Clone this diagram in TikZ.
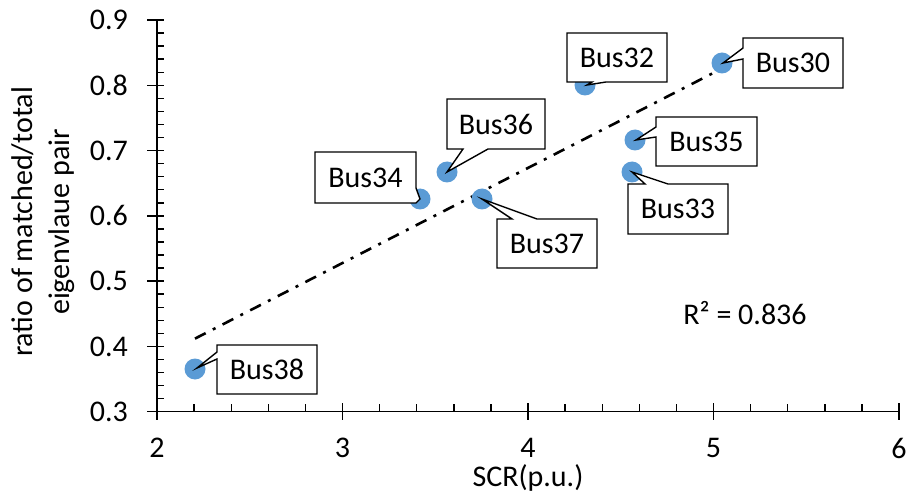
\documentclass[tikz,border=0pt]{standalone}
\usepackage{fontspec}
\setmainfont{Carlito}
\definecolor{ptblue}{HTML}{5B9BD5}
\begin{document}
\begin{tikzpicture}[x=1pt,y=-1pt,
  axisline/.style={line width=1.4pt, line cap=rect},
  tickline/.style={line width=1.4pt},
  datapt/.style={circle, fill=ptblue, minimum size=21pt, inner sep=0pt},
  callout/.style={draw=black, fill=white, line width=1.4pt, line join=miter},
  lbl/.style={font=\fontsize{30}{37}\selectfont, inner sep=0pt},
  trendline/.style={line width=2.6pt, dash pattern=on 12pt off 8pt on 3pt off 8pt}
]
\useasboundingbox (0,0) rectangle (909,494);

% axes
\coordinate (O) at (157,411.7);
\coordinate (XE) at (899,411.7);
\coordinate (YE) at (157,20);
\draw[axisline] (XE) -- (O) -- (YE);
% x ticks
\foreach \k in {0,...,4} {
  \draw[tickline] ({157+185.5*\k},403) -- ({157+185.5*\k},420);
  \node[lbl] (xl\k) at ({157+185.5*\k},448) {\pgfmathparse{int(2+\k)}\pgfmathresult};
}
\foreach \k in {1,...,19} {
  \draw[tickline] ({157+37.1*\k},411.7) -- ({157+37.1*\k},404);
}
% y ticks
\foreach \k/\t in {0/0.3,1/0.4,2/0.5,3/0.6,4/0.7,5/0.8,6/0.9} {
  \draw[tickline] (147,{411.7-65.28*\k}) -- (164,{411.7-65.28*\k});
  \node[lbl, anchor=east] (yl\k) at (128,{411.7-65.28*\k}) {\t};
}
\foreach \k in {1,...,29} {
  \draw[tickline] (157,{411.7-13.056*\k}) -- (163.5,{411.7-13.056*\k});
}
% axis titles
\node[lbl] (xt) at (528,478) {SCR(p.u.)};
\node[lbl, rotate=90, align=center] (yt) at (43,222) {ratio of matched/total\\eigenvlaue pair};

% trend line
\coordinate (T1) at (195,338.6);
\coordinate (T2) at (722,68.5);
\draw[trendline] (T1) -- (T2);

% data points
\node[datapt] (p38) at (195,369) {};
\node[datapt] (p34) at (420,199) {};
\node[datapt] (p36) at (447,172) {};
\node[datapt] (p37) at (482,199) {};
\node[datapt] (p32) at (585,85) {};
\node[datapt] (p30) at (722,63) {};
\node[datapt] (p35) at (635,140) {};
\node[datapt] (p33) at (632,172) {};

% callouts
\draw[callout] (217,345) -- (317,345) -- (317,394) -- (217,394) -- (217,359) -- (197,368) -- (217,352) -- cycle;
\node[lbl] (c38) at (267,369.5) {Bus38};

\draw[callout] (315,152) -- (416,152) -- (416,188) -- (420,199) -- (416,203) -- (315,203) -- cycle;
\node[lbl] (c34) at (365.5,177.5) {Bus34};

\draw[callout] (447,99) -- (545,99) -- (545,149) -- (488,149) -- (447,172) -- (463,149) -- (447,149) -- cycle;
\node[lbl] (c36) at (496,124) {Bus36};

\draw[callout] (497,219) -- (512,219) -- (482,199) -- (537,219) -- (597,219) -- (597,268) -- (497,268) -- cycle;
\node[lbl] (c37) at (547,243.5) {Bus37};

\draw[callout] (567,33) -- (667,33) -- (667,82) -- (606,82) -- (587,85) -- (592,82) -- (567,82) -- cycle;
\node[lbl] (c32) at (617,57.5) {Bus32};

\draw[callout] (743,38) -- (843,38) -- (843,88) -- (743,88) -- (743,59) -- (723,63) -- (743,48) -- cycle;
\node[lbl] (c30) at (793,63) {Bus30};

\draw[callout] (656,117) -- (757,117) -- (757,166) -- (656,166) -- (656,137) -- (636,140) -- (656,127) -- cycle;
\node[lbl] (c35) at (706.5,141.5) {Bus35};

\draw[callout] (628,184) -- (645,184) -- (632,172) -- (668,184) -- (728,184) -- (728,234) -- (628,234) -- cycle;
\node[lbl] (c33) at (678,209) {Bus33};

% R^2
\node[lbl] (r2) at (745,313) {R² = 0.836};
\end{tikzpicture}
\end{document}
